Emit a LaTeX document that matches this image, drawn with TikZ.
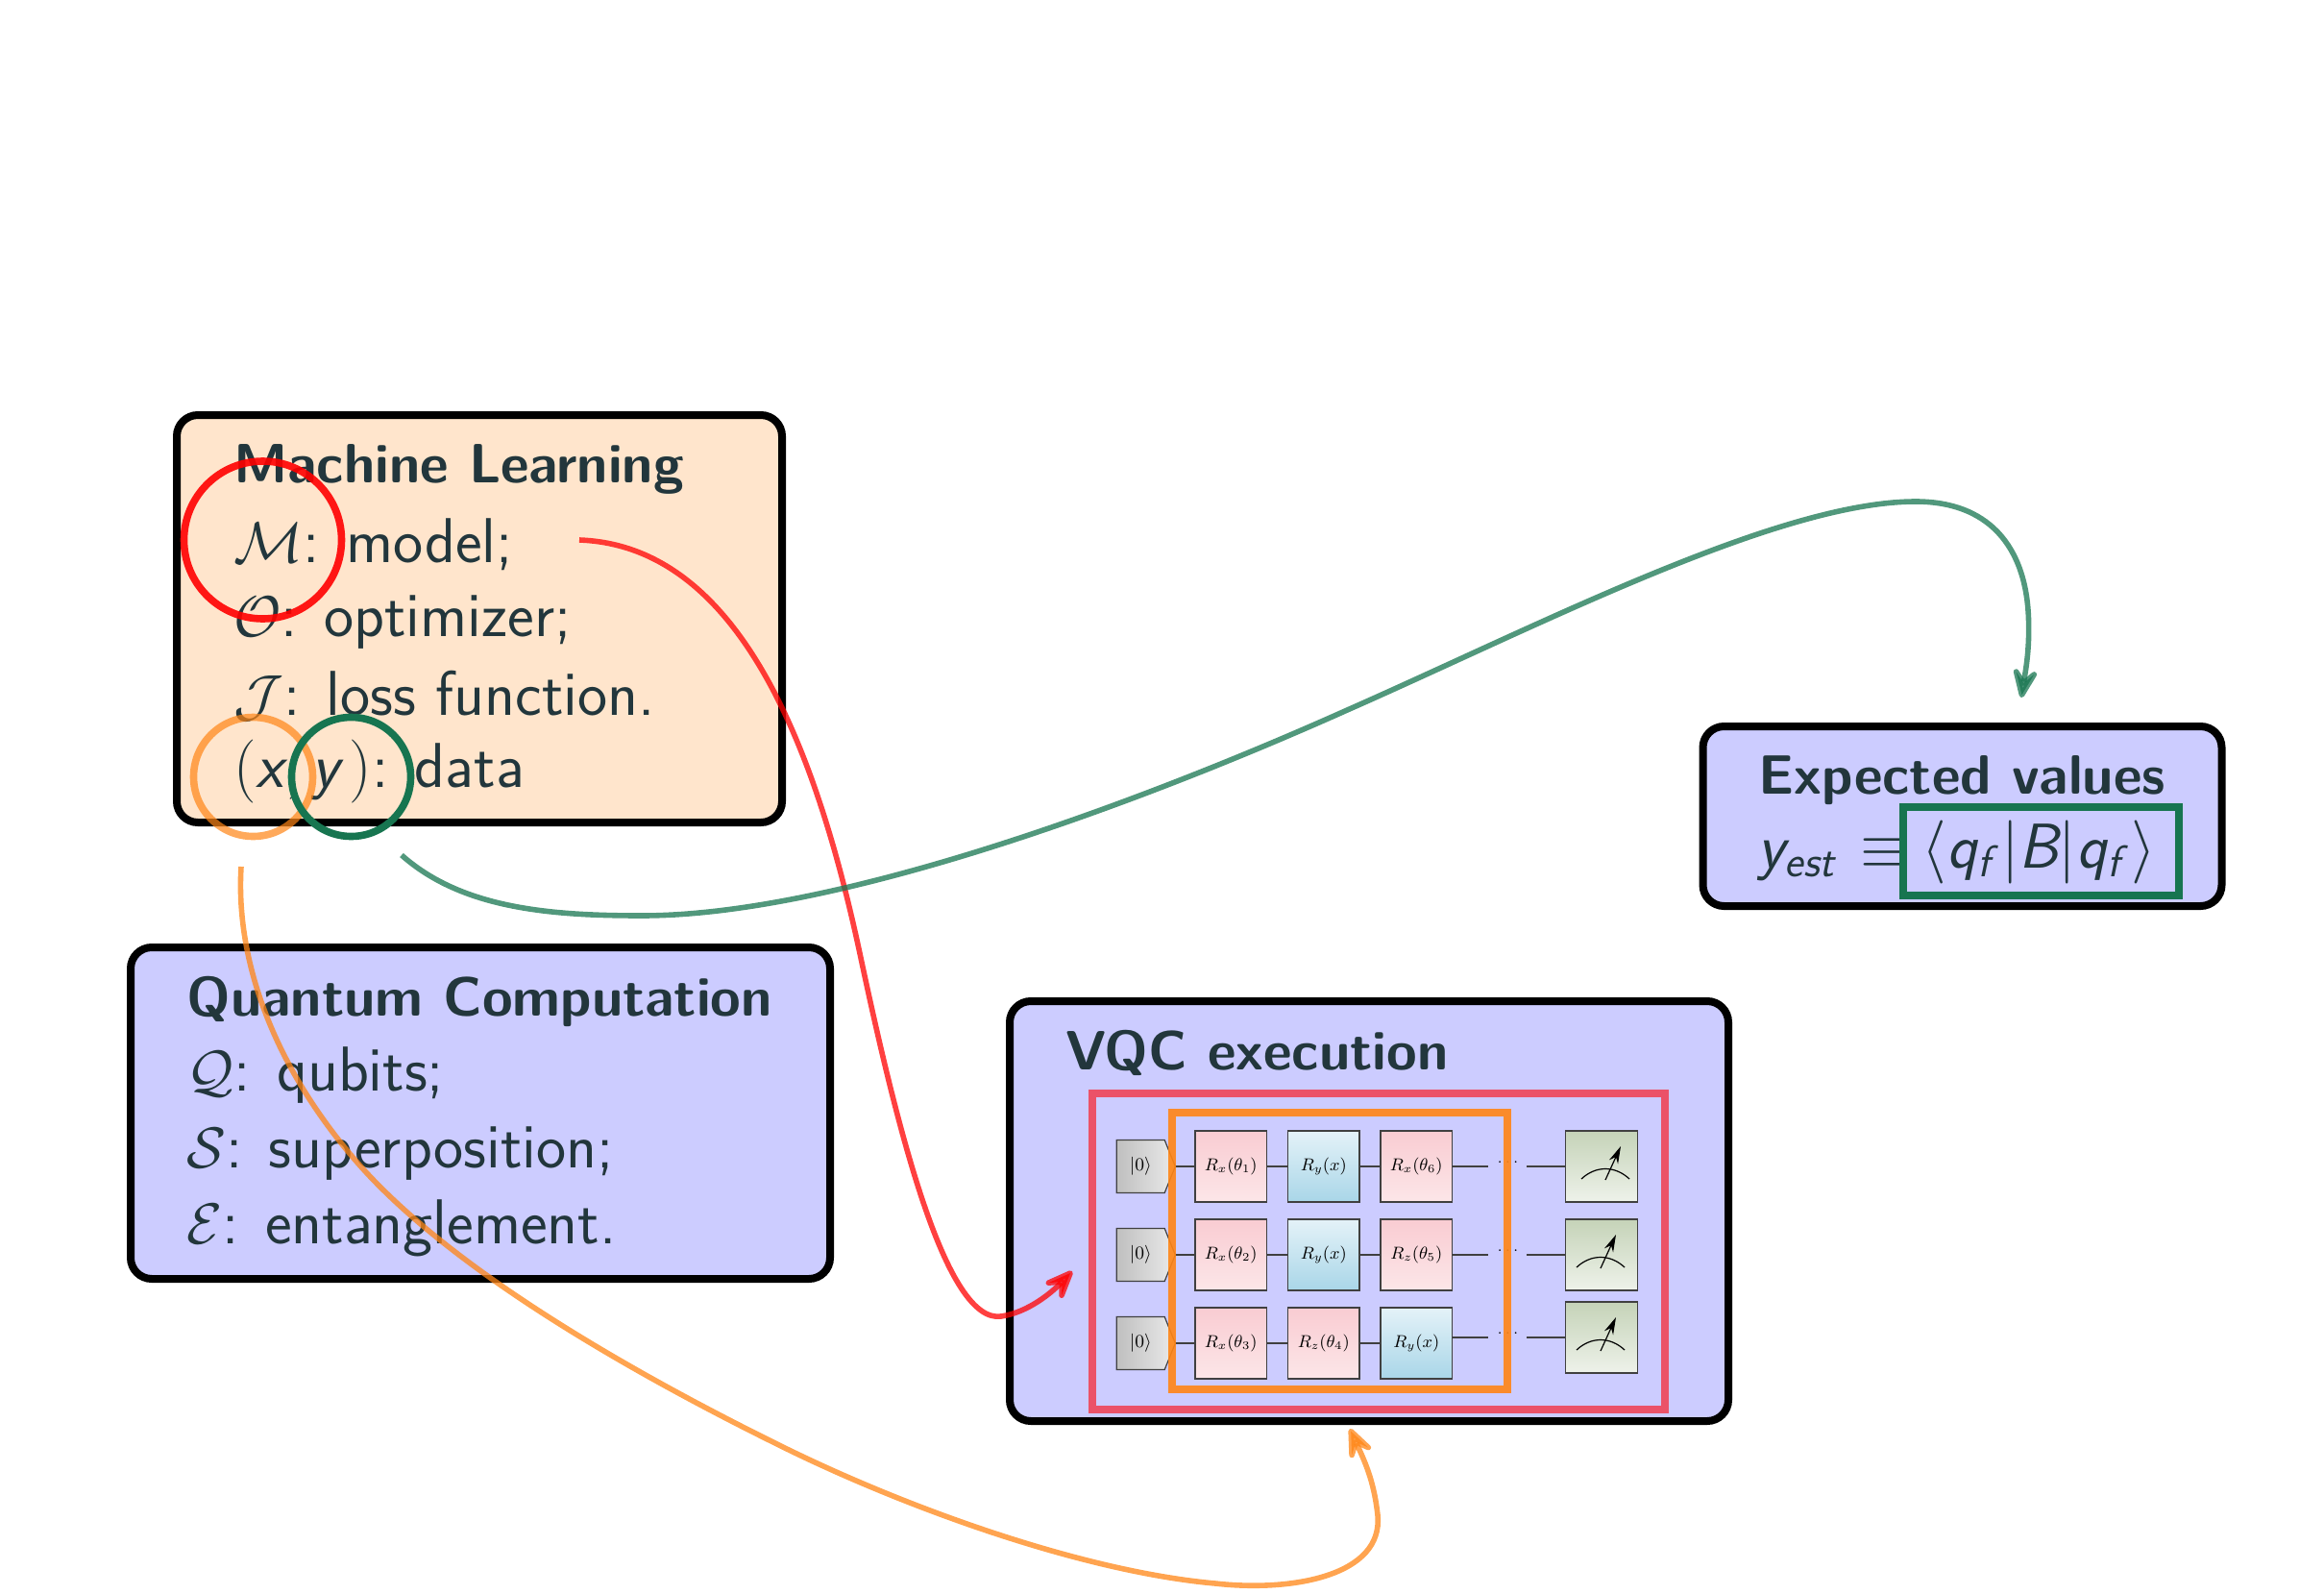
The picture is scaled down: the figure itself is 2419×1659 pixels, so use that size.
\documentclass[tikz,border=0pt]{standalone}
\usepackage{fix-cm}
\usepackage{amssymb}
\usepackage{amsmath}
\usepackage{tikz}
\usetikzlibrary{arrows.meta}
\usetikzlibrary{positioning}
\usetikzlibrary{shapes.symbols}
\DeclareMathAlphabet{\mathsfit}{TU}{lmss}{m}{sl}
\newcommand{\calsym}[1]{{\fontsize{30}{30}\selectfont$\mathcal{#1}$}}
\definecolor{inkblue}{HTML}{22363C}
\definecolor{peachfill}{HTML}{FFE5CC}
\definecolor{lilacfill}{HTML}{CCCCFF}
\definecolor{roseline}{HTML}{EB5268}
\definecolor{amberline}{HTML}{FF8515}
\definecolor{pinegreen}{HTML}{177550}
\definecolor{rotdark}{HTML}{F9CCD2}
\definecolor{rotlight}{HTML}{FCE6E8}
\definecolor{datadark}{HTML}{A9D6E8}
\definecolor{datalight}{HTML}{E4F2F8}
\definecolor{readdark}{HTML}{C5D3B8}
\definecolor{readlight}{HTML}{EEF2EA}
\tikzset{
    panel/.style={draw=black, line width=4pt, rounded corners=11pt, inner sep=0pt},
    headline/.style={anchor=base west, inner sep=0pt, text=inkblue, font=\sffamily\bfseries\fontsize{28.8}{30}\selectfont},
    entry/.style={anchor=base west, inner sep=0pt, text=inkblue, font=\sffamily\fontsize{33}{35}\selectfont},
    gatebox/.style={draw=black!75, line width=0.6pt, minimum width=37.25pt, minimum height=37pt, inner sep=0pt, font=\fontsize{9}{10}\selectfont},
    rotgate/.style={gatebox, top color=rotdark, bottom color=rotlight},
    datagate/.style={gatebox, shading angle=30, top color=datalight, bottom color=datadark},
    readout/.style={gatebox, top color=readdark, bottom color=readlight},
    ketbox/.style={signal, signal to=east, signal pointer angle=136, draw=black!75, line width=0.6pt, minimum width=30.5pt, minimum height=27.5pt, inner sep=0pt, left color=black!25, right color=black!8, font=\fontsize{9.5}{10}\selectfont},
    wire/.style={draw=black!75, line width=0.6pt},
    ringmark/.style={line width=3.8pt},
    linkcurve/.style={line width=2.8pt, -{Stealth[length=22pt, width=18pt, inset=10pt, round]}},
}

\begin{document}
\begin{tikzpicture}[x=0.5pt,y=-0.5pt]
    \useasboundingbox (0,0) rectangle (2419,1659);

    % Panels
    \node [panel, fill=peachfill, minimum width=315pt, minimum height=212pt] (mlpanel) at (499,644) {};
    \node [panel, fill=lilacfill, minimum width=364pt, minimum height=172.5pt] (qcpanel) at (500,1158.5) {};
    \node [panel, fill=lilacfill, minimum width=374pt, minimum height=218.5pt] (vqcpanel) at (1425,1260.5) {};
    \node [panel, fill=lilacfill, minimum width=270pt, minimum height=93.5pt] (evpanel) at (2042.5,849.5) {};

    % Machine learning text
    \node [headline] (mltitle) at (243,502) {Machine Learning};
    \node [entry] (mlmodel) at (243,585) {\calsym{M}: model;};
    \node [entry] (mlopt) at (243,662) {\calsym{O}: optimizer;};
    \node [entry] (mlloss) at (243,744) {\calsym{J}: loss function.};
    \node [entry] (mldata) at (243,819) {$(\mathsfit{x},\mathsfit{y}\,)$: data};

    % Quantum computation text
    \node [headline] (qctitle) at (194,1057) {Quantum Computation};
    \node [entry] (qcqubit) at (194,1135) {\calsym{Q}: qubits;};
    \node [entry] (qcsuper) at (194,1215) {\calsym{S}: superposition;};
    \node [entry] (qcent) at (194,1294) {\calsym{E}: entanglement.};

    % VQC and expected values text
    \node [headline] (vqctitle) at (1109,1113) {VQC execution};
    \node [headline] (evtitle) at (1830,826) {Expected values};
    \node [entry] (evlhs) at (1829,903) {$\mathsfit{y}_{\mathsfit{est}}$};
    \node [entry] (evequiv) at (1936,903) {$\equiv$};
    \node [entry] (evrhs) at (2000,903) {$\langle\mathsfit{q}_{\mathsfit{f}}\,|\mathsfit{B}|\mathsfit{q}_{\mathsfit{f}}\,\rangle$};

    % Circuit: first column, then the others relative to it
    \node [rotgate] (r1a) at (1281.25,1214) {$R_x(\theta_1)$};
    \node [rotgate, below of=r1a, node distance=46pt] (r2a) {$R_x(\theta_2)$};
    \node [rotgate, below of=r2a, node distance=46pt] (r3a) {$R_x(\theta_3)$};
    \node [datagate, right of=r1a, node distance=48.25pt] (r1b) {$R_y(x)$};
    \node [datagate, right of=r2a, node distance=48.25pt] (r2b) {$R_y(x)$};
    \node [rotgate, right of=r3a, node distance=48.25pt] (r3b) {$R_z(\theta_4)$};
    \node [rotgate, right of=r1b, node distance=48.25pt] (r1c) {$R_x(\theta_6)$};
    \node [rotgate, right of=r2b, node distance=48.25pt] (r2c) {$R_z(\theta_5)$};
    \node [datagate, right of=r3b, node distance=48.25pt] (r3c) {$R_y(x)$};
    \node [ketbox, left of=r1a, node distance=47pt] (k1) {$|0\rangle$};
    \node [ketbox, left of=r2a, node distance=47pt] (k2) {$|0\rangle$};
    \node [ketbox, left of=r3a, node distance=47pt] (k3) {$|0\rangle$};
    \node [readout] (m1) at (1667,1214) {};
    \node [readout] (m2) at (1667,1306) {};
    \node [readout] (m3) at (1667,1392) {};

    % Wires
    \foreach \row in {1,2,3} {
        \draw [wire] (k\row.east) -- (r\row a);
        \draw [wire] (r\row a) -- (r\row b);
        \draw [wire] (r\row b) -- (r\row c);
        \node [inner sep=0pt, font=\fontsize{7.7}{9}\selectfont] (d\row) at (1571,{\row==3 ? 1388 : (\row==2 ? 1302 : 1210)}) {$\cdots$};
        \draw [wire] (r\row c.east |- m\row) -- ++(37,0) coordinate (w\row);
        \draw [wire] (m\row.west) -- ++(-40,0) coordinate (v\row);
    }

    % Meters
    \foreach \row/\shiftx in {1/4,2/-1,3/-1} {
        \draw [line width=0.6pt, shift={(m\row.center)}] (\shiftx-25,13) .. controls (\shiftx-10,-1) and (\shiftx+10,-1) .. (\shiftx+25,13);
        \draw [line width=0.6pt, -{Stealth[length=9pt, width=5pt]}, shift={(m\row.center)}] (\shiftx,14) -- (\shiftx+16,-21);
    }

    % Frames
    \draw [draw=roseline, line width=4pt] (1137,1138) rectangle (1733,1467);
    \draw [draw=amberline, opacity=0.9, line width=4pt] (1219.5,1158) rectangle (1569,1446);
    \draw [draw=pinegreen, line width=4pt] (1981,840) rectangle (2268,932);

    % Rings
    \node [draw=red, opacity=0.9, ringmark, circle, minimum size=164*0.5pt, inner sep=0pt] (ringm) at (273.5,562) {};
    \node [draw=amberline, opacity=0.7, ringmark, circle, minimum size=124*0.5pt, inner sep=0pt] (ringx) at (263.5,808.5) {};
    \node [draw=pinegreen, ringmark, circle, minimum size=124*0.5pt, inner sep=0pt] (ringy) at (365.5,808.5) {};

    % Curve ends
    \coordinate (redstart) at (603,562);
    \coordinate (redend) at (1116,1323);
    \coordinate (greenstart) at (418,890);
    \coordinate (greenend) at (2104,726);
    \coordinate (orangestart) at (251,902);
    \coordinate (orangeend) at (1405,1487);

    % Connections
    \draw [linkcurve, draw=red, opacity=0.75] (redstart) .. controls (770,568) and (850,780) .. (896,997) .. controls (935,1180) and (985,1378) .. (1042,1370) .. controls (1070,1366) and (1095,1345) .. (redend);
    \draw [linkcurve, draw=pinegreen, opacity=0.75] (greenstart) .. controls (480,945) and (570,953) .. (668,953) .. controls (880,953) and (1210,825) .. (1400,740) .. controls (1600,652) and (1850,522) .. (1994,522) .. controls (2075,522) and (2112,575) .. (2111.6,653) .. controls (2112,680) and (2108,700) .. (greenend);
    \draw [linkcurve, draw=amberline, opacity=0.75] (orangestart) .. controls (245,1000) and (285,1110) .. (372,1210) .. controls (470,1322) and (660,1430) .. (819,1508) .. controls (950,1572) and (1130,1636) .. (1265,1648) .. controls (1345,1657) and (1440,1640) .. (1434,1577) .. controls (1430,1540) and (1420,1520) .. (orangeend);
\end{tikzpicture}
\end{document}
